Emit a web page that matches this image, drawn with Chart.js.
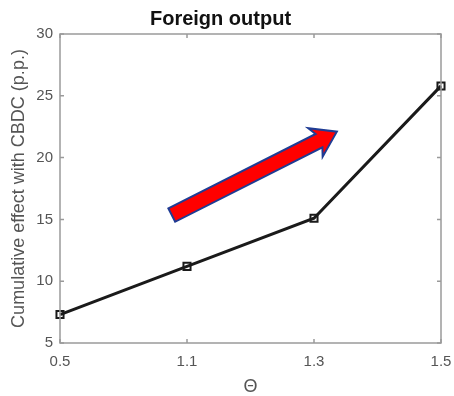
<!DOCTYPE html>
<html>
<head>
<meta charset="utf-8">
<script src="https://cdn.jsdelivr.net/npm/chart.js@4.4.0/dist/chart.umd.min.js"></script>
<style>
  html, body { margin: 0; padding: 0; background: #fff; }
  #wrap { width: 454px; height: 396px; }
</style>
</head>
<body>
<div id="wrap"><canvas id="chart" width="454" height="396"></canvas></div>
<script>
// values
const thetaLabels = ['0.5', '1.1', '1.3', '1.5'];
const foreignOutput = [7.3, 11.2, 15.1, 25.8];
const yTicks = [5, 10, 15, 20, 25, 30];

// arrow annotation, in data units (x = category index, y = value)
const arrowFrom = [0.88, 15.35];
const arrowTo = [2.18, 22.1];

const axisColor = '#9a9a9a';
const textColor = '#555555';

const boxPlugin = {
	id: 'boxPlugin',
	afterDatasetsDraw(chart) {
		const { ctx, chartArea: a, scales } = chart;
		ctx.save();
		ctx.strokeStyle = axisColor;
		ctx.lineWidth = 1.5;
		ctx.strokeRect(a.left, a.top, a.right - a.left, a.bottom - a.top);
		const tl = 4;
		ctx.beginPath();
		scales.x.ticks.forEach((t, i) => {
			const px = scales.x.getPixelForTick(i);
			ctx.moveTo(px, a.bottom); ctx.lineTo(px, a.bottom - tl);
			ctx.moveTo(px, a.top); ctx.lineTo(px, a.top + tl);
		});
		scales.y.ticks.forEach((t, i) => {
			const py = scales.y.getPixelForTick(i);
			ctx.moveTo(a.left, py); ctx.lineTo(a.left + tl, py);
			ctx.moveTo(a.right, py); ctx.lineTo(a.right - tl, py);
		});
		ctx.stroke();

		// red arrow
		const x0 = scales.x.getPixelForValue(arrowFrom[0]);
		const y0 = scales.y.getPixelForValue(arrowFrom[1]);
		const x1 = scales.x.getPixelForValue(arrowTo[0]);
		const y1 = scales.y.getPixelForValue(arrowTo[1]);
		const ang = Math.atan2(y1 - y0, x1 - x0);
		const len = Math.hypot(x1 - x0, y1 - y0);
		const shaft = 7.5, head = 16, headLen = 20;
		ctx.translate(x0, y0);
		ctx.rotate(ang);
		ctx.beginPath();
		ctx.moveTo(0, -shaft);
		ctx.lineTo(len - headLen, -shaft);
		ctx.lineTo(len - headLen - 4, -head);
		ctx.lineTo(len, 0);
		ctx.lineTo(len - headLen - 4, head);
		ctx.lineTo(len - headLen, shaft);
		ctx.lineTo(0, shaft);
		ctx.closePath();
		ctx.fillStyle = '#ff0000';
		ctx.fill();
		ctx.strokeStyle = '#1f3c94';
		ctx.lineWidth = 2;
		ctx.lineJoin = 'miter';
		ctx.stroke();
		ctx.restore();
	}
};

new Chart(document.getElementById('chart'), {
	type: 'line',
	data: {
		labels: thetaLabels,
		datasets: [{
			data: foreignOutput,
			borderColor: '#1a1a1a',
			borderWidth: 3,
			pointStyle: 'rect',
			pointRadius: 5,
			pointBorderWidth: 2,
			pointBorderColor: '#1a1a1a',
			pointBackgroundColor: 'rgba(255,255,255,0)',
			tension: 0,
			clip: false
		}]
	},
	options: {
		responsive: false,
		animation: false,
		layout: { padding: { left: 0, right: 13, top: 0, bottom: 0 } },
		plugins: {
			legend: { display: false },
			tooltip: { enabled: false },
			title: {
				display: true,
				text: 'Foreign output',
				color: '#111111',
				font: { family: 'Liberation Sans', size: 20, weight: 'bold', lineHeight: 1.2 },
				padding: { top: 7, bottom: 3 }
			}
		},
		scales: {
			x: {
				type: 'category',
				offset: false,
				grid: { display: false, drawTicks: false },
				border: { display: false },
				ticks: {
					color: textColor,
					padding: 10,
					maxRotation: 0,
					font: { family: 'Liberation Sans', size: 15 }
				},
				title: {
					display: true,
					text: 'Θ',
					color: textColor,
					padding: { top: 0, bottom: 0 },
					font: { family: 'Liberation Sans', size: 18, lineHeight: 1 }
				},
				afterFit(scale) {
					scale.height = 53;
					scale.paddingLeft = 0;
					scale.paddingRight = 0;
				}
			},
			y: {
				min: 5,
				max: 30,
				afterBuildTicks(scale) { scale.ticks = yTicks.map(v => ({ value: v })); },
				grid: { display: false, drawTicks: false },
				border: { display: false },
				ticks: {
					color: textColor,
					padding: 7,
					font: { family: 'Liberation Sans', size: 15 }
				},
				title: {
					display: true,
					text: 'Cumulative effect with CBDC (p.p.)',
					color: textColor,
					padding: { top: 8, bottom: 0 },
					font: { family: 'Liberation Sans', size: 18, lineHeight: 1.2 }
				},
				afterFit(scale) {
					scale.width = 60;
					scale.paddingTop = 0;
					scale.paddingBottom = 0;
				}
			}
		}
	},
	plugins: [boxPlugin]
});
</script>
</body>
</html>
